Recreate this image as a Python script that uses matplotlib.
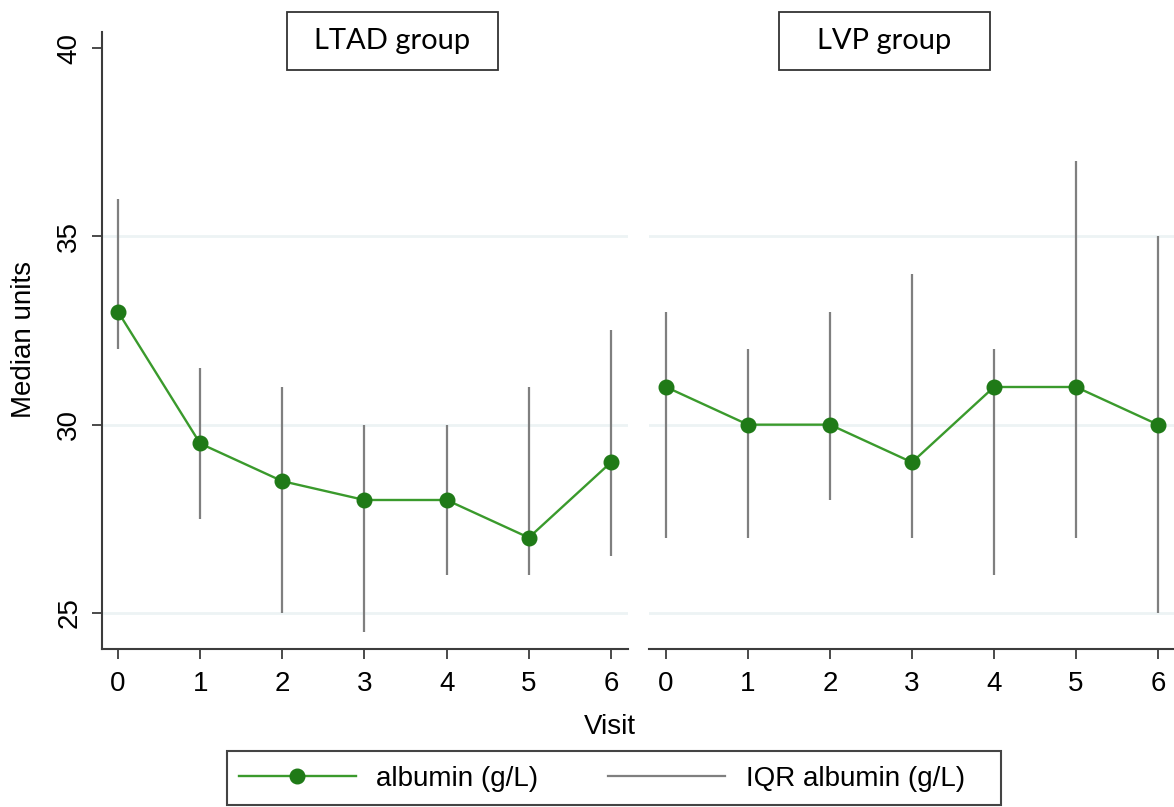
import matplotlib
matplotlib.use("Agg")
import matplotlib.pyplot as plt
from matplotlib.patches import Rectangle
from matplotlib.lines import Line2D

# ---- data ----
visits = [0, 1, 2, 3, 4, 5, 6]
groups = ["LTAD group", "LVP group"]
ltad_median = [33, 29.5, 28.5, 28, 28, 27, 29]
ltad_q1 = [32, 27.5, 25, 24.5, 26, 26, 26.5]
ltad_q3 = [36, 31.5, 31, 30, 30, 31, 32.5]
lvp_median = [31, 30, 30, 29, 31, 31, 30]
lvp_q1 = [27, 27, 28, 27, 26, 27, 25]
lvp_q3 = [33, 32, 33, 34, 32, 37, 35]
yticks = [25, 30, 35, 40]
grid_vals = [25, 30, 35]
series_label = "albumin (g/L)"
iqr_label = "IQR albumin (g/L)"

W, H = 1174, 807
fig = plt.figure(figsize=(W / 100, H / 100), dpi=100)
plt.rcParams['font.family'] = ['Liberation Sans', 'DejaVu Sans']

FS = 20
LINE_C = '#3a9a2c'
MARK_C = '#1f7a17'
IQR_C = '#7f7f7f'
AX_C = '#3c3c3c'
GRID_C = '#edf3f4'

def fx(px):
    return px / W

def fy(py):
    return 1 - py / H

ylim = (24.044, 40.425)
ax_bottom, ax_top = 649, 32
panels = [
    (101.7, 628, (-0.198, 6.207), ltad_median, ltad_q1, ltad_q3, True),
    (649, 1174, (-0.207, 6.195), lvp_median, lvp_q1, lvp_q3, False),
]
axes = []
for (x0, x1, xl, med, q1, q3, showy) in panels:
    ax = fig.add_axes([fx(x0), fy(ax_bottom), (x1 - x0) / W, (ax_bottom - ax_top) / H])
    ax.set_xlim(*xl)
    ax.set_ylim(*ylim)
    for g in grid_vals:
        ax.axhline(g, color=GRID_C, lw=2, zorder=0)
    ax.vlines(visits, q1, q3, color=IQR_C, lw=1.6, zorder=2)
    ax.plot(visits, med, color=LINE_C, lw=1.7, marker='o', ms=10.5,
            mfc=MARK_C, mec=MARK_C, zorder=3)
    for s in ['top', 'right']:
        ax.spines[s].set_visible(False)
    ax.spines['bottom'].set_color(AX_C)
    ax.spines['bottom'].set_linewidth(1.5)
    ax.set_xticks(visits)
    ax.set_xticklabels([str(v) for v in visits], fontsize=FS)
    ax.tick_params(axis='x', length=7, width=1.3, color=AX_C, pad=9)
    if showy:
        ax.spines['left'].set_color(AX_C)
        ax.spines['left'].set_linewidth(1.5)
        ax.set_yticks(yticks)
        ax.set_yticklabels([str(v) for v in yticks], fontsize=FS,
                           rotation=90, va='center')
        ax.tick_params(axis='y', length=7, width=1.3, color=AX_C, pad=7)
    else:
        ax.spines['left'].set_visible(False)
        ax.set_yticks([])
    ax.patch.set_alpha(0)
    axes.append(ax)

# axis titles
fig.text(fx(24), fy(340), "Median units", rotation=90, ha='center', va='center', fontsize=FS)
fig.text(fx(610), fy(727), "Visit", ha='center', va='center', fontsize=FS)

# panel title boxes
for (cx, label) in [(392.5, groups[0]), (884.5, groups[1])]:
    bw, bh = 211, 58
    fig.patches.append(Rectangle((fx(cx - bw / 2), fy(70)), bw / W, bh / H,
                                 transform=fig.transFigure, fill=False,
                                 edgecolor='#333333', lw=1.3))
    fig.text(fx(cx), fy(41), label, ha='center', va='center', fontsize=21,
             family=['Lato', 'DejaVu Sans'])

# legend frame
fig.patches.append(Rectangle((fx(227), fy(805)), (1001 - 227) / W, (805 - 751) / H,
                             transform=fig.transFigure, fill=False,
                             edgecolor='#444444', lw=1.5))
h1 = Line2D([], [], color=LINE_C, lw=1.7, marker='o', ms=10.5, mfc=MARK_C, mec=MARK_C)
h2 = Line2D([], [], color=IQR_C, lw=1.6)
leg = fig.legend([h1, h2], [series_label, iqr_label], loc='center left',
                 bbox_to_anchor=(fx(239), fy(779)), ncol=2, fontsize=FS,
                 frameon=False, handlelength=4.2, handletextpad=0.75,
                 columnspacing=2.5, borderpad=0, borderaxespad=0)

fig.savefig("out.png", dpi=100)
